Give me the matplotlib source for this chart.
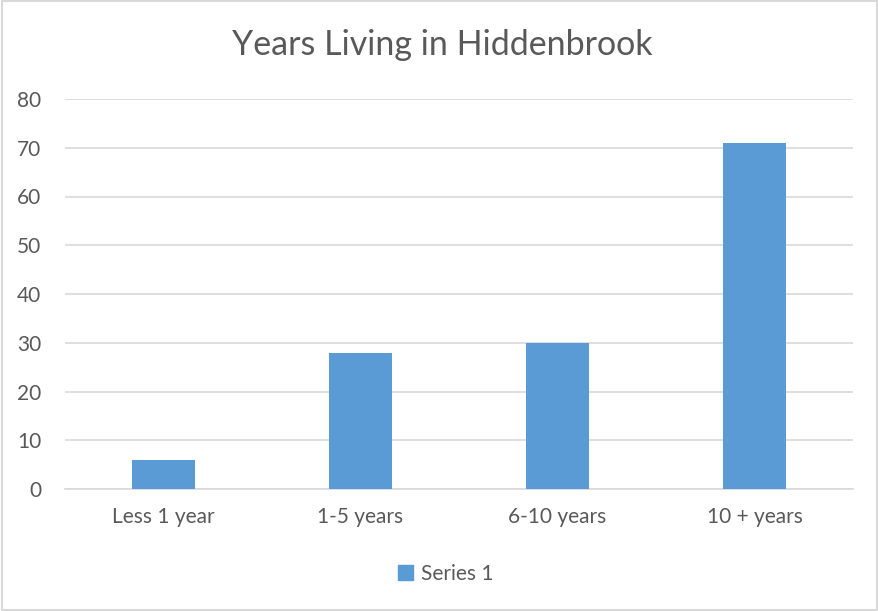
import matplotlib
matplotlib.use("Agg")
import matplotlib.pyplot as plt
from matplotlib.patches import Rectangle, Patch

categories = ["Less 1 year", "1-5 years", "6-10 years", "10 + years"]
values = [6, 28, 30, 71]
yticks = [0, 10, 20, 30, 40, 50, 60, 70, 80]

plt.rcParams['font.family'] = ['Lato', 'DejaVu Sans']
text_col = "#595959"
bar_col = "#5B9BD5"
grid_col = "#D9D9D9"

fig = plt.figure(figsize=(8.79, 6.11), dpi=100)
ax = fig.add_axes([65/879, 122/611, 788/879, 390/611])

x = range(len(categories))
ax.bar(x, values, width=0.315, color=bar_col, zorder=3)
ax.set_xlim(-0.5, len(categories) - 0.5)
ax.set_ylim(0, 80)
ax.set_yticks(yticks)
ax.set_xticks(list(x))
ax.set_xticklabels(categories)
ax.grid(axis="y", color=grid_col, linewidth=1.2, zorder=0)
for s in ["top", "right", "left"]:
    ax.spines[s].set_visible(False)
ax.spines["bottom"].set_color(grid_col)
ax.spines["bottom"].set_linewidth(1.2)
ax.tick_params(axis="both", length=0, labelsize=15, colors=text_col)
ax.tick_params(axis="y", pad=17)
ax.tick_params(axis="x", pad=13)

fig.text(442/879, 1 - 45/611, "Years Living in Hiddenbrook", ha="center", va="center",
         fontsize=24.5, color=text_col)

fig.legend(handles=[Patch(color=bar_col, label="Series 1")], loc="center",
           bbox_to_anchor=(446/879, 1 - 574/611), frameon=False, fontsize=15,
           labelcolor=text_col, handlelength=0.7, handleheight=0.7, handletextpad=0.4)

fig.patches.append(Rectangle((0.002, 0.002), 0.996, 0.996, transform=fig.transFigure,
                             fill=False, edgecolor=grid_col, linewidth=1.5))

fig.savefig("out.png", dpi=100)
